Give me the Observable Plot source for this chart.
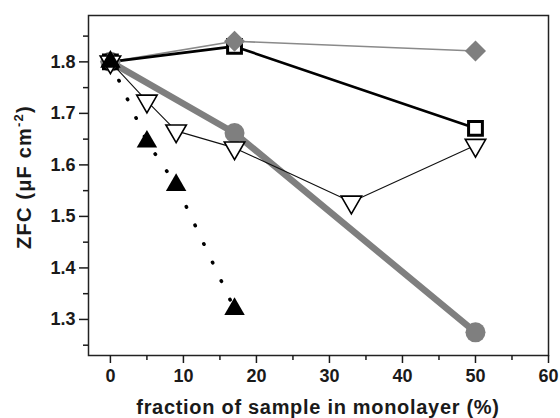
<!DOCTYPE html>
<html><head><meta charset="utf-8">
<script src="https://cdn.jsdelivr.net/npm/d3@7"></script>
<script src="https://cdn.jsdelivr.net/npm/@observablehq/plot@0.6"></script>
<style>
body{margin:0;background:#fff}
#chart svg{font-family:"Liberation Sans",Arial,sans-serif}
</style>
</head><body><div id="chart"></div>
<script>
// series: gray diamonds
const xDiamond = [0, 17, 50];
const yDiamond = [1.80, 1.84, 1.821];
// open squares
const xSquare = [0, 17, 50];
const ySquare = [1.80, 1.83, 1.671];
// open down-triangles
const xDown = [0, 5, 9, 17, 33, 50];
const yDown = [1.80, 1.724, 1.666, 1.633, 1.528, 1.638];
// gray circles
const xCircle = [0, 17, 50];
const yCircle = [1.80, 1.662, 1.275];
// filled up-triangles
const xUp = [0, 5, 9, 17];
const yUp = [1.80, 1.645, 1.561, 1.32];

const xTicks = [0, 10, 20, 30, 40, 50, 60];
const xMinor = [5, 15, 25, 35, 45, 55];
const yTicks = [1.3, 1.4, 1.5, 1.6, 1.7, 1.8];
const yMinor = [1.25, 1.35, 1.45, 1.55, 1.65, 1.75, 1.85];
const xTitle = "fraction of sample in monolayer (%)";
const yTitleMain = "ZFC (μF cm";
const yTitleSup = "-2";
const yTitleEnd = ")";

const zip = (xs, ys) => xs.map((x, i) => ({x, y: ys[i]}));
const diamond = zip(xDiamond, yDiamond);
const square = zip(xSquare, ySquare);
const down = zip(xDown, yDown);
const circle = zip(xCircle, yCircle);
const up = zip(xUp, yUp);

const gray = "#7f7f7f";
const plot = Plot.plot({
  width: 560, height: 418,
  marginLeft: 88, marginRight: 12, marginTop: 15, marginBottom: 63,
  style: {fontFamily: "'Liberation Sans', Arial, sans-serif", fontSize: "18px", fontWeight: "bold", background: "#fff", color: "#1a1a1a"},
  x: {domain: [-3, 60]},
  y: {domain: [1.23, 1.89]},
  marks: [
    Plot.line(circle, {x: "x", y: "y", stroke: gray, strokeWidth: 6.5}),
    Plot.line(diamond, {x: "x", y: "y", stroke: "#8a8a8a", strokeWidth: 1.6}),
    Plot.line(square, {x: "x", y: "y", stroke: "#000", strokeWidth: 2.6}),
    Plot.line(down, {x: "x", y: "y", stroke: "#111", strokeWidth: 1.1}),
    Plot.line(up, {x: "x", y: "y", stroke: "#000", strokeWidth: 3.6, strokeDasharray: "0.5 20", strokeLinecap: "round"}),
    Plot.dot(circle, {x: "x", y: "y", r: 10, fill: gray, stroke: "none"}),
    Plot.dot(square, {x: "x", y: "y", symbol: "square", r: 7.8, fill: "#fff", stroke: "#000", strokeWidth: 3}),
    Plot.dot(diamond, {x: "x", y: "y", symbol: "diamond2", r: 9.5, fill: gray, stroke: "none"}),
    Plot.dot(down, {x: "x", y: "y", symbol: "triangle", rotate: 180, r: 7.6, fill: "#fff", stroke: "#000", strokeWidth: 1.6}),
    Plot.dot(up, {x: "x", y: "y", symbol: "triangle", r: 7.6, fill: "#000", stroke: "none"}),
    Plot.frame({stroke: "#222", strokeWidth: 1.5}),
    Plot.axisX({ticks: xTicks, tickSize: 8, tickPadding: 6, label: null, strokeWidth: 1.5}),
    Plot.axisX({ticks: xMinor, tickSize: 5, text: null, label: null, strokeWidth: 1.5}),
    Plot.axisY({ticks: yTicks, tickSize: 9, tickPadding: 4, label: null, tickFormat: ".1f", strokeWidth: 1.5}),
    Plot.axisY({ticks: yMinor, tickSize: 5, text: null, label: null, strokeWidth: 1.5})
  ]
});
document.getElementById("chart").appendChild(plot);
const svg = d3.select(plot);
svg.selectAll('g[aria-label$="tick label"]').attr("font-size", null).attr("font-weight", null)
  .style("font-size", "18px").style("font-weight", "bold");
svg.selectAll('g[aria-label$="tick label"] text').style("font-size", "18px").style("font-weight", "bold");
svg.append("text")
  .attr("x", 318).attr("y", 414)
  .attr("text-anchor", "middle")
  .style("font-size", "20px").style("font-weight", "bold").attr("letter-spacing", 0.7)
  .attr("fill", "#1a1a1a")
  .text(xTitle);
const yt = svg.append("text")
  .attr("transform", "translate(31,177) rotate(-90)")
  .attr("text-anchor", "middle")
  .style("font-size", "20px").style("font-weight", "bold").attr("letter-spacing", 1.2)
  .attr("fill", "#1a1a1a");
yt.append("tspan").text(yTitleMain);
yt.append("tspan").style("font-size", "13px").attr("dy", -8).text(yTitleSup);
yt.append("tspan").attr("dy", 8).text(yTitleEnd);
</script>
</body></html>
